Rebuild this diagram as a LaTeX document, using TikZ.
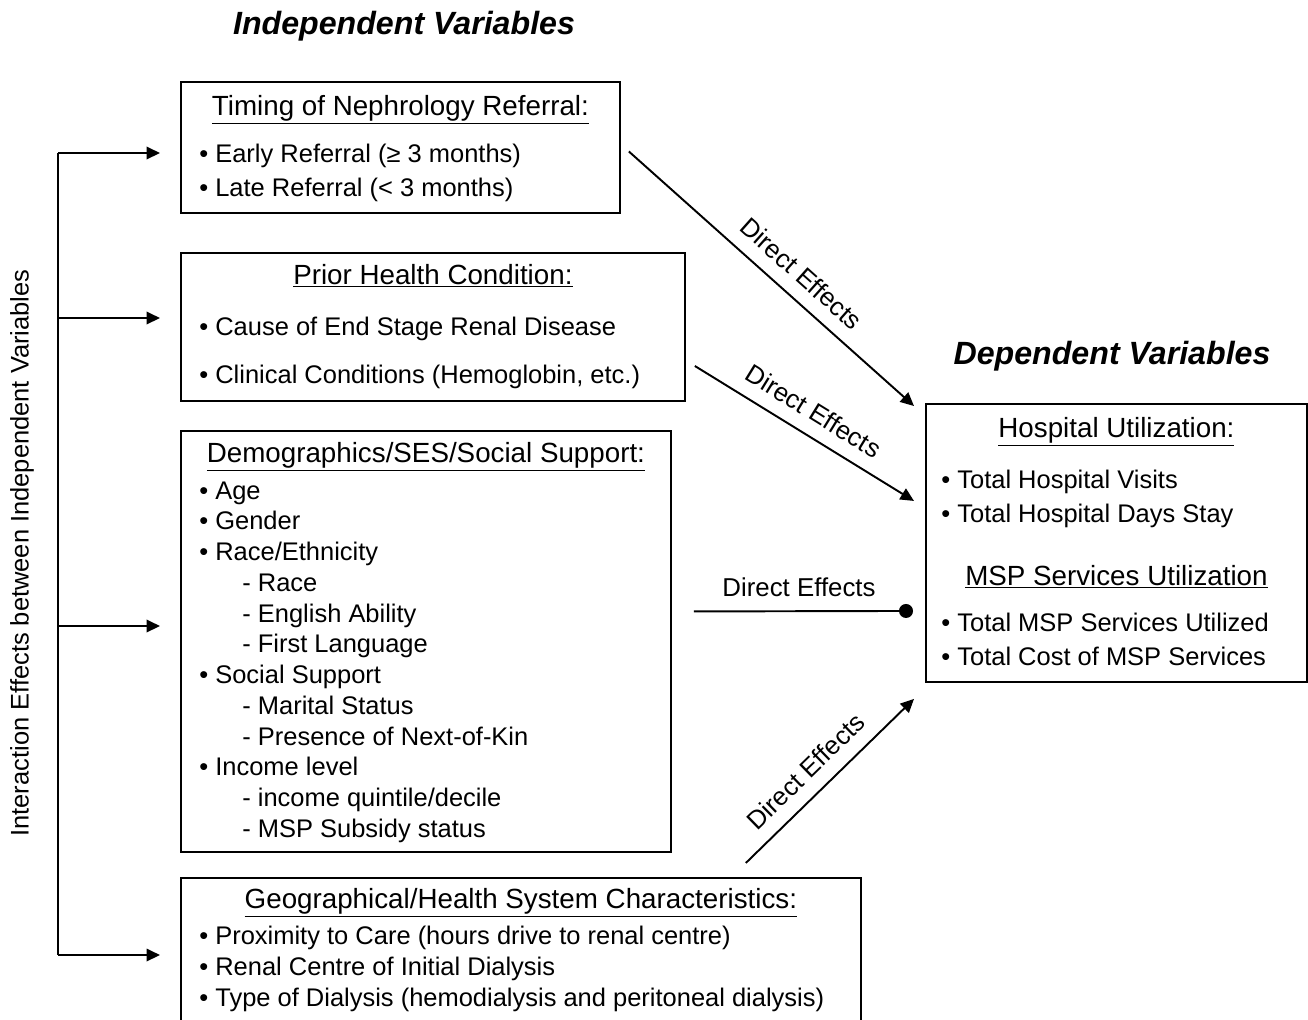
\documentclass[tikz,border=0pt]{standalone}
\usepackage{fontspec}
\setmainfont{Liberation Sans}
\usetikzlibrary{positioning,arrows.meta,calc}
\newcommand{\indentsub}{\hspace*{0.86cm}}

\begin{document}
\begin{tikzpicture}[
    x=0.02cm, y=-0.02cm,
    box/.style={rectangle, draw, line width=1.1pt, anchor=north west, inner sep=0pt},
    head/.style={font=\fontsize{15.8}{18}\selectfont, anchor=base, inner sep=0pt},
    item/.style={font=\fontsize{14.5}{17}\selectfont, anchor=base west, inner sep=0pt},
    title/.style={font=\fontsize{18.3}{21}\selectfont\bfseries\itshape, anchor=base, inner sep=0pt},
    arrow/.style={-{Triangle[length=0.27cm, width=0.25cm]}, line width=1.1pt},
    dotarrow/.style={-{Circle[length=0.28cm]}, line width=1.1pt},
    effect/.style={font=\fontsize{14.7}{17}\selectfont, sloped, above=0.27cm, inner sep=0pt}
]
\useasboundingbox (0,0) rectangle (1308,1019);
\clip (0,0) rectangle (1308,1019);

% Titles
\node[title] (indep) at (404,34) {Independent Variables};
\node[title] (dep) at (1112,364) {Dependent Variables};

% Blocks
\node[box, minimum width=8.78cm, minimum height=2.62cm] (timing) at (180,81) {};
\node[box, minimum width=10.08cm, minimum height=2.96cm] (prior) at (180,252) {};
\node[box, minimum width=9.8cm, minimum height=8.42cm] (demog) at (180,430) {};
\node[box, minimum width=13.6cm, minimum height=3.2cm] (geo) at (180,877) {};
\node[box, minimum width=7.62cm, minimum height=5.56cm] (outcome) at (925,403) {};

% Headers
\node[head] (timinghead) at ($(timing.north)+(0,34)$) {\underline{Timing of Nephrology Referral:}};
\node[head] (priorhead) at ($(prior.north)+(0,32)$) {\underline{Prior Health Condition:}};
\node[head] (demoghead) at ($(demog.north)+(0,32)$) {\underline{Demographics/SES/Social Support:}};
\node[head] (geohead) at ($(geo.north)+(0,31)$) {\underline{Geographical/Health System Characteristics:}};
\node[head] (hosphead) at ($(outcome.north)+(0,34)$) {\underline{Hospital Utilization:}};
\node[head] (msphead) at ($(outcome.north)+(0,182)$) {\underline{MSP Services Utilization}};

% Items
\node[item] (early) at (199,162) {• Early Referral (≥ 3 months)};
\node[item] (late) at (199,196) {• Late Referral (< 3 months)};
\node[item] (cause) at (199,335) {• Cause of End Stage Renal Disease};
\node[item] (clinic) at (199,383) {• Clinical Conditions (Hemoglobin, etc.)};
\foreach \txt [count=\i from 0] in {• Age, • Gender, • Race/Ethnicity, \indentsub- Race,
    \indentsub- English Ability, \indentsub- First Language, • Social Support,
    \indentsub- Marital Status, \indentsub- Presence of Next-of-Kin, • Income level,
    \indentsub- income quintile/decile, \indentsub- MSP Subsidy status}
  \node[item] (demog\i) at (199,499+30.75*\i) {\txt};
\foreach \txt [count=\i from 0] in {• Proximity to Care (hours drive to renal centre),
    • Renal Centre of Initial Dialysis,
    • Type of Dialysis (hemodialysis and peritoneal dialysis)}
  \node[item] (geo\i) at (199,944+31*\i) {\txt};
\node[item] (visits) at (941,488) {• Total Hospital Visits};
\node[item] (days) at (941,522) {• Total Hospital Days Stay};
\node[item] (services) at (941,631) {• Total MSP Services Utilized};
\node[item] (cost) at (941,665) {• Total Cost of MSP Services};

% Interaction bracket
\coordinate (in1) at (58,153);
\coordinate (in2) at (58,318);
\coordinate (in3) at (58,626);
\coordinate (in4) at (58,955);
\draw[line width=1.1pt] (in1) -- (in4);
\foreach \c/\b in {in1/timing, in2/prior, in3/demog, in4/geo}
  \draw[arrow, shorten >=0.4cm] (\c) -- (\c -| \b.west);
\node[rotate=90, font=\fontsize{14.5}{17}\selectfont] (interact) at (22,553) {Interaction Effects between Independent Variables};

% Direct effects
\draw[arrow] ($(timing.east)+(8,4)$) -- node[effect, pos=0.55] {Direct Effects} ($(outcome.north west)+(-11,3)$);
\draw[arrow] ($(prior.east)+(9,39)$) -- node[effect, pos=0.485] {Direct Effects} ($(outcome.west)+(-11,-42)$);
\draw[dotarrow] ($(demog.east)+(22,-30)$) -- node[effect, pos=0.48] {Direct Effects} ($(outcome.west)+(-12,68)$);
\draw[arrow] ($(geo.north east)+(-116,-14)$) -- node[effect, pos=0.455] {Direct Effects} ($(outcome.south west)+(-11,16)$);

\end{tikzpicture}
\end{document}
